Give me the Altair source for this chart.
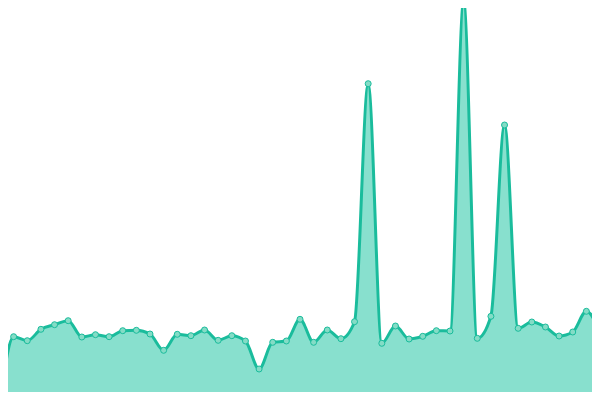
import altair as alt
import pandas as pd

idx = list(range(45))
values = [0, 63.3, 59.3, 70.7, 75.3, 79.3, 63, 65.3, 63.3, 69.3,
          69.7, 66, 49.7, 65.7, 64.3, 70, 59.7, 64.3, 59, 31,
          57.7, 59, 80.7, 57.7, 70, 61.3, 78.3, 316.3, 56.7, 74,
          61, 63.7, 69.3, 69, 399, 61.7, 83.7, 275, 71.7, 78,
          73, 64, 68, 88.7, 68.3]

df = pd.DataFrame({"i": idx, "v": values})

STROKE = "#1abc9c"
FILL = "#88e0ce"

W, H = 584, 384
x = alt.X("i:Q", scale=alt.Scale(domain=[8 * 44 / 600, (8 + W) * 44 / 600], nice=False, zero=False), axis=None)
y = alt.Y("v:Q", scale=alt.Scale(domain=[392 - H, 392], nice=False, zero=False), axis=None)

base = alt.Chart(df).encode(x=x, y=y)

area = base.mark_area(interpolate="monotone", color=FILL, opacity=1)
line = base.mark_line(interpolate="monotone", color=STROKE, strokeWidth=3)
pts = base.mark_point(filled=True, fill="#84dcc6", stroke=STROKE, strokeWidth=1,
                      size=36, opacity=1, shape="circle")

chart = (area + line + pts).properties(
    width=W, height=H,
    autosize=alt.AutoSizeParams(type="none"),
    padding=0,
    background="white",
).configure_view(stroke=None)

chart.save("out.html", embed_options={"renderer": "svg", "actions": False})
